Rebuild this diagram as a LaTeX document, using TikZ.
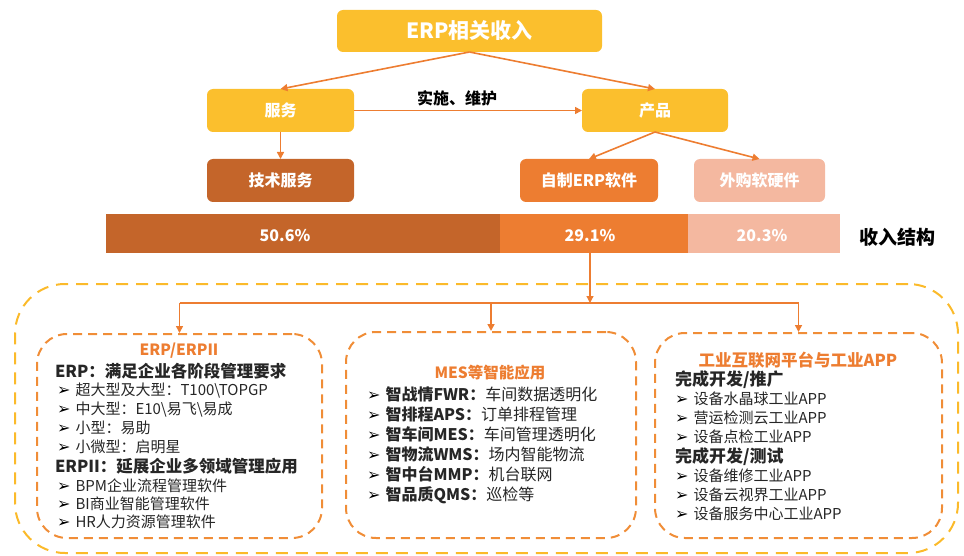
\documentclass[tikz,border=0pt]{standalone}
\usepackage{fontspec}
\setmainfont{Noto Sans CJK SC}
\newfontfamily\dejavu{DejaVu Sans}
\usetikzlibrary{arrows.meta}
\definecolor{cyel}{HTML}{FBBF2D}
\definecolor{cdark}{HTML}{C4652A}
\definecolor{cmid}{HTML}{ED7D31}
\definecolor{clight}{HTML}{F4B8A0}
\definecolor{couter}{HTML}{FBBA2A}
\definecolor{cinner}{HTML}{F08D37}
\definecolor{ctxt}{HTML}{262626}
\newcommand\fsz[1]{\fontsize{#1}{#1}\selectfont}
\newcommand\bul{\makebox[18.5pt][l]{\raisebox{0pt}{\color{black}\dejavu\fontsize{16}{16}\selectfont ➢}}}
\tikzset{
  topbox/.style={fill=#1, rounded corners=6pt, inner sep=0pt, outer sep=0pt, text=white},
  seg/.style={fill=#1, inner sep=0pt, outer sep=0pt, minimum height=39pt},
  conn/.style={draw=cmid, line width=1.6pt, -{Triangle[length=7pt,width=7pt]}},
  thinconn/.style={draw=cmid, line width=1.2pt, -{Triangle[length=7pt,width=7pt]}},
  plainline/.style={draw=cmid, line width=1.6pt},
  outerbox/.style={draw=couter, line width=2pt, dash pattern=on 12pt off 8pt, rounded corners=50pt, inner sep=0pt},
  innerbox/.style={draw=cinner, line width=2pt, dash pattern=on 9pt off 6pt, rounded corners=30pt, inner sep=0pt},
  ln/.style={inner sep=0pt, outer sep=0pt, anchor=west, text=ctxt},
  ttl/.style={inner sep=0pt, outer sep=0pt, text=cmid, font=\bfseries},
}
\begin{document}
\begin{tikzpicture}[x=1pt,y=-1pt]
\useasboundingbox (0,0) rectangle (964,556);

% top tree
\node[topbox=cyel, minimum width=265pt, minimum height=42pt, font=\fsz{21}\bfseries] (erp) at (469.5,31) {ERP相关收入};
\node[topbox=cyel, minimum width=147pt, minimum height=43pt, font=\fsz{16}\bfseries] (fw) at (280.5,110.5) {服务};
\node[topbox=cyel, minimum width=146pt, minimum height=43pt, font=\fsz{16}\bfseries] (cp) at (655,110.5) {产品};
\node[topbox=cdark, minimum width=147pt, minimum height=43pt, font=\fsz{16}\bfseries] (js) at (280.5,180.5) {技术服务};
\node[topbox=cmid, minimum width=138pt, minimum height=43pt, font=\fsz{16}\bfseries] (zz) at (589,180.5) {自制ERP软件};
\node[topbox=clight, minimum width=131pt, minimum height=43pt, font=\fsz{16}\bfseries] (wg) at (759.5,180.5) {外购软硬件};

\draw[conn] (erp.south) -- (fw.north);
\draw[conn] (erp.south) -- (cp.north);
\draw[conn] (fw.east) -- (cp.west);
\node[text=black, font=\fsz{16}\bfseries, inner sep=0pt] (ss) at (457,98) {实施、维护};
\draw[conn] (fw.south) -- (js.north);
\draw[conn] (cp.south) -- (zz.north);
\draw[conn] (cp.south) -- (wg.north);

% revenue bar
\node[seg=cdark, minimum width=394pt] (s1) at (303,233.5) {};
\node[seg=cmid, minimum width=188pt] (s2) at (594,233.5) {};
\node[seg=clight, minimum width=152pt] (s3) at (764,233.5) {};
\node[text=white, font=\fsz{16}\bfseries, inner sep=0pt] (p1) at (285,236) {50.6\%};
\node[text=white, font=\fsz{16}\bfseries, inner sep=0pt] (p2) at (590,236) {29.1\%};
\node[text=white, font=\fsz{16}\bfseries, inner sep=0pt] (p3) at (762,236) {20.3\%};
\node[text=black, font=\fsz{19}\bfseries, inner sep=0pt] (sr) at (897,237) {收入结构};

% lower frame
\node[outerbox, minimum width=943pt, minimum height=269pt] (outer) at (486.5,418.5) {};
\node[innerbox, minimum width=285pt, minimum height=204pt] (b1) at (179.5,436) {};
\node[innerbox, minimum width=290pt, minimum height=206pt] (b2) at (491,435) {};
\node[innerbox, minimum width=287pt, minimum height=205pt] (b3) at (798.5,435.5) {};

\coordinate (hl) at (179.5,303);
\coordinate (hr) at (798.5,303);
\draw[plainline] (hl) -- (hr);
\draw[thinconn] (p2.south |- s2.south) -- (p2.south |- hl);
\draw[conn] (hl) -- (b1.north);
\draw[conn] (b2.north |- hl) -- (b2.north);
\draw[conn] (hr) -- (b3.north);

% box 1
\node[ttl, font=\fsz{15.5}\bfseries] (t1) at (179,351) {ERP/ERPII};
\node[ln, font=\fsz{16.5}\bfseries] (a0) at (55,371) {ERP：满足企业各阶段管理要求};
\node[ln, font=\fsz{15}] (a1) at (57,391) {\bul 超大型及大型：T100\textbackslash TOPGP};
\node[ln, font=\fsz{15}] (a2) at (57,409.5) {\bul 中大型：E10\textbackslash 易飞\textbackslash 易成};
\node[ln, font=\fsz{15}] (a3) at (57,428) {\bul 小型：易助};
\node[ln, font=\fsz{15}] (a4) at (57,446.5) {\bul 小微型：启明星};
\node[ln, font=\fsz{16.5}\bfseries] (a5) at (55,466) {ERPII：延展企业多领域管理应用};
\node[ln, font=\fsz{15}] (a6) at (57,486) {\bul BPM企业流程管理软件};
\node[ln, font=\fsz{15}] (a7) at (57,504) {\bul BI商业智能管理软件};
\node[ln, font=\fsz{15}] (a8) at (57,522) {\bul HR人力资源管理软件};

% box 2
\node[ttl, font=\fsz{15.5}\bfseries] (t2) at (490,373) {MES等智能应用};
\node[ln, font=\fsz{16}] (m1) at (367,394) {\bul{\bfseries 智战情FWR：}车间数据透明化};
\node[ln, font=\fsz{16}] (m2) at (367,414) {\bul{\bfseries 智排程APS：}订单排程管理};
\node[ln, font=\fsz{16}] (m3) at (367,434) {\bul{\bfseries 智车间MES：}车间管理透明化};
\node[ln, font=\fsz{16}] (m4) at (367,454) {\bul{\bfseries 智物流WMS：}场内智能物流};
\node[ln, font=\fsz{16}] (m5) at (367,474) {\bul{\bfseries 智中台MMP：}机台联网};
\node[ln, font=\fsz{16}] (m6) at (367,495) {\bul{\bfseries 智品质QMS：}巡检等};

% box 3
\node[ttl, font=\fsz{16.5}\bfseries] (t3) at (798,360) {工业互联网平台与工业APP};
\node[ln, font=\fsz{17}\bfseries] (c0) at (675,380) {完成开发/推广};
\node[ln, font=\fsz{15}] (c1) at (675,399) {\bul 设备水晶球工业APP};
\node[ln, font=\fsz{15}] (c2) at (675,418) {\bul 营运检测云工业APP};
\node[ln, font=\fsz{15}] (c3) at (675,437) {\bul 设备点检工业APP};
\node[ln, font=\fsz{17}\bfseries] (c4) at (675,457) {完成开发/测试};
\node[ln, font=\fsz{15}] (c5) at (675,476) {\bul 设备维修工业APP};
\node[ln, font=\fsz{15}] (c6) at (675,495) {\bul 设备云视界工业APP};
\node[ln, font=\fsz{15}] (c7) at (675,513.5) {\bul 设备服务中心工业APP};
\end{tikzpicture}
\end{document}
